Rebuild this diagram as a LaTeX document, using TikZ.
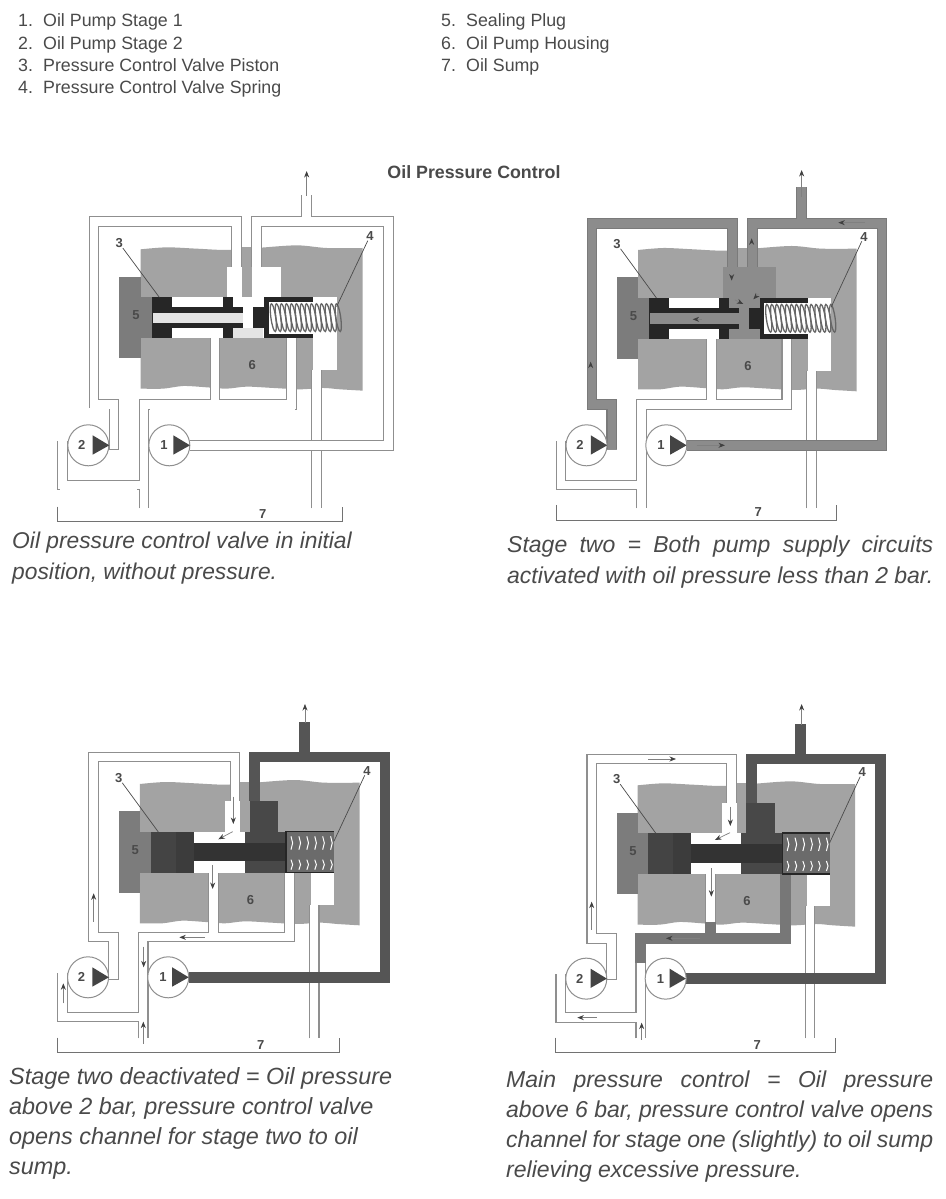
\documentclass[tikz,border=0pt]{standalone}
\usepackage{fontspec}
\setmainfont{Liberation Sans}
\usetikzlibrary{arrows.meta}
\definecolor{txt}{HTML}{4A4A4A}
\definecolor{hous}{HTML}{A3A3A3}
\definecolor{plug}{HTML}{7C7C7C}
\definecolor{edgec}{HTML}{8F8F8F}
\definecolor{midf}{HTML}{8C8C8C}
\definecolor{midd}{HTML}{7A7A7A}
\definecolor{darkf}{HTML}{555555}
\definecolor{pist}{HTML}{262626}
\definecolor{light}{HTML}{E4E4E4}
\tikzset{
 listtext/.style={anchor=base west,inner sep=0pt,text=txt,font=\fontsize{17.8}{20}\selectfont},
 captext/.style={anchor=base west,inner sep=0pt,text=txt,font=\fontsize{23}{26}\itshape\selectfont},
 captextA/.style={captext,font=\fontsize{22.8}{26}\itshape\selectfont},
 captextC/.style={captext,font=\fontsize{23.4}{26}\itshape\selectfont},
 partno/.style={inner sep=0pt,text=txt,font=\fontsize{13}{15}\bfseries\selectfont},
 leader/.style={draw=txt,line width=.7pt},
 pumpc/.style={circle,draw=edgec,fill=white,line width=1pt,minimum size=41pt,inner sep=0pt},
 flow/.style={draw=gray,line width=.7pt,-{Stealth[length=6.5pt,width=5pt,color=black!75]}},
}
\newcommand\pipe[3]{\draw[line width=10.8pt,#1]#3;\draw[line width=8.5pt,#2]#3;}
\newcommand\chanA{(450,\py)--(1045,\py)--(1045,\ty)--(650,\ty)--(650,{320+\hy}) (800,\ty)--(800,\st)}
\newcommand\chanB{(222,870)--(222,\ey)--(162,\ey)--(162,\ty)--(590,\ty)--(590,{320+\hy})}
\newcommand\chanC{(312,1045)--(312,\ey)--(755,\ey)--(755,{535+\hy}) (525,\ey)--(525,{535+\hy}) (312,\ly)--(67,\ly)--(67,{\py-14})}
\newcommand\chanD{(830,1045)--(830,{630+\hy})}
\newcommand\housing{%
 \fill[hous] plot[smooth] coordinates {(302,268)(380,262)(470,266)(560,270)(650,264)(770,256)(860,264)(968,264)}
   -- (968,692) -- plot[smooth] coordinates {(968,692)(900,688)(850,684)(780,688)(700,684)(620,680)(560,686)(500,682)(430,678)(370,686)(302,686)} -- cycle;
 \fill[plug] (238,350) rectangle (302,595);
 \fill[plug] (302,411) rectangle (335,534);
 \fill[white] (335,411) rectangle (890,534);
 \fill[white] (820,534) rectangle (890,630);
 \fill[white] (560,320) rectangle (722,411);
 \fill[hous] (605,262) rectangle (635,411);
}
\newcommand\pistonA[2]{%
 \fill[#2] (580,412) rectangle (672,534);
 \fill[pist] (335,412) rectangle (395,534);
 \fill[pist] (395,442) rectangle (610,505);
 \fill[pist] (550,412) rectangle (580,534);
 \fill[#1] (338,458) rectangle (608,490);
 \fill[#2] (610,440) rectangle (640,505);
 \fill[pist] (640,442) rectangle (672,505);
 \fill[pist] (672,412) rectangle (820,535);
 \fill[white] (686,426) rectangle (820,521);
 \foreach \sx in {700,715,...,900}{\draw[line width=1.3pt,black!60,rotate around={8:(\sx,473)}] (\sx,473) ellipse [x radius=2.4pt,y radius=14pt];}
}
\newcommand\pistonB{%
 \fill[darkf!85!black] (635,320) rectangle (722,411);
 \fill[darkf!85!black] (620,411) rectangle (745,534);
 \fill[white] (465,411) rectangle (620,534);
 \fill[darkf!80!black] (335,411) rectangle (410,534);
 \fill[pist!90!white] (410,411) rectangle (465,534);
 \fill[darkf!60!black] (465,445) rectangle (745,500);
 \fill[black!58] (745,411) rectangle (890,534);
 \draw[pist,line width=1.2pt] (890,411)--(745,411)--(745,534)--(890,534);
 \foreach \sx in {760,784,...,880}{
  \draw[white,line width=1pt] (\sx,425)--(\sx+5,445)--(\sx,465);
  \draw[white,line width=1pt] (\sx,495)--(\sx+5,510)--(\sx,525);}
}
\newcommand\labels{%
 \node[partno] (n3) at (238,250) {3};
 \coordinate (t3) at (358,412);
 \draw[leader] (n3) -- (t3);
 \node[partno] (n4) at (990,228) {4};
 \coordinate (t4) at (890,440);
 \draw[leader] (n4) -- (t4);
 \node[partno] (n5) at (288,465) {5};
 \node[partno] (n6) at (637,615) {6};
}
\newcommand\common{%
 \draw[edgec,line width=1pt] (207,870)--(238,870);
 \node[pumpc] (pump2) at (145,\py) {};
 \node[pumpc] (pump1) at (388,\py) {};
 \fill[darkf!80!black] (158,{\py-30}) -- (158,{\py+28}) -- (208,\py) -- cycle;
 \fill[darkf!80!black] (400,{\py-30}) -- (400,{\py+28}) -- (450,\py) -- cycle;
 \node[partno] (l2) at (125,\py) {2};
 \node[partno] (l1) at (372,\py) {1};
 \coordinate (b1) at (52,{\bry-45});
 \coordinate (b2) at (52,\bry);
 \coordinate (b3) at (907,\bry);
 \coordinate (b4) at (907,{\bry-45});
 \draw[edgec!80!black,line width=.9pt] (b1)--(b2)--(b3)--(b4);
 \node[partno] (n7) at (668,{\bry-24}) {7};
}
\begin{document}
\begin{tikzpicture}[x=1pt,y=-1pt]
\useasboundingbox (0,0) rectangle (945,1199);
\fill[white] (0,0) rectangle (945,1199);
% list
\node[listtext] (i1) at (18,27) {\makebox[25pt][l]{1.}Oil Pump Stage 1};
\node[listtext] (i2) at (18,49) {\makebox[25pt][l]{2.}Oil Pump Stage 2};
\node[listtext] (i3) at (18,71) {\makebox[25pt][l]{3.}Pressure Control Valve Piston};
\node[listtext] (i4) at (18,93) {\makebox[25pt][l]{4.}Pressure Control Valve Spring};
\node[listtext] (i5) at (441,27) {\makebox[25pt][l]{5.}Sealing Plug};
\node[listtext] (i6) at (441,49) {\makebox[25pt][l]{6.}Oil Pump Housing};
\node[listtext] (i7) at (441,71) {\makebox[25pt][l]{7.}Oil Sump};
\node[anchor=base,inner sep=0pt,text=txt,font=\fontsize{17.8}{20}\bfseries\selectfont] (title) at (474,178) {Oil Pressure Control};
% panel 1
\begin{scope}[name prefix=a-,shift={(40,160)},x=.3333pt,y=-.3333pt]
 \def\ty{184}\def\py{856}\def\ey{733}\def\ly{975}\def\hy{0}\def\bry{1085}\def\st{105}
 \housing
 \pipe{edgec}{white}{\chanD}
 \pipe{edgec}{white}{\chanC}
 \pipe{edgec}{white}{\chanB}
 \pipe{edgec}{white}{\chanA}
 \draw[white,line width=2pt] (60,990)--(290,990) (330,748)--(765,748) (146,748)--(206,748) (298,962)--(298,988);
 \pistonA{light}{white}
 \fill[light] (580,505) rectangle (670,534);
 \labels
 \common
 \draw[flow] (800,108)--(800,33);
\end{scope}
% panel 2
\begin{scope}[name prefix=b-,shift={(538.9,160)},x=.3283pt,y=-.3333pt]
 \def\ty{190}\def\py{856}\def\ey{733}\def\ly{975}\def\hy{2}\def\bry{1080}\def\st{82}
 \begin{scope}[yshift=-.66pt]\housing\fill[midf] (560,320) rectangle (722,411);\fill[hous] (605,262) rectangle (635,320);\end{scope}
 \pipe{edgec}{white}{\chanD}
 \pipe{edgec}{white}{\chanC}
 \pipe{midd}{midf}{\chanB}
 \pipe{midd}{midf}{\chanA}
 \begin{scope}[yshift=-.66pt]\pistonA{midf}{midf}\labels\end{scope}
 \common
\end{scope}
\begin{scope}[name prefix=bz-,shift={(540,160)},x=.3333pt,y=-.3333pt]
 \coordinate (f1a) at (785,110);\coordinate (f1b) at (785,30);\draw[flow] (f1a)--(f1b);
 \coordinate (f2a) at (975,188);\coordinate (f2b) at (895,188);\draw[flow] (f2a)--(f2b);
 \coordinate (f3a) at (470,856);\coordinate (f3b) at (555,856);\draw[flow] (f3a)--(f3b);
 \coordinate (f4a) at (152,620);\coordinate (f4b) at (152,605);\draw[flow] (f4a)--(f4b);
 \coordinate (f5a) at (485,478);\coordinate (f5b) at (458,478);\draw[flow] (f5a)--(f5b);
 \coordinate (f6a) at (575,345);\coordinate (f6b) at (575,362);\draw[flow] (f6a)--(f6b);
 \coordinate (f7a) at (635,248);\coordinate (f7b) at (635,235);\draw[flow] (f7a)--(f7b);
 \coordinate (f8a) at (585,420);\coordinate (f8b) at (610,432);\draw[flow] (f8a)--(f8b);
 \coordinate (f9a) at (655,402);\coordinate (f9b) at (640,418);\draw[flow] (f9a)--(f9b);
\end{scope}
% panel 3
\begin{scope}[name prefix=c-,shift={(40.2,690)},x=.33pt,y=-.3333pt]
 \def\ty{201}\def\py{862}\def\ey{741}\def\ly{981}\def\hy{14}\def\bry{1088}\def\st{95}
 \begin{scope}[yshift=-4.67pt]\housing\end{scope}
 \pipe{edgec}{white}{\chanD}
 \pipe{edgec}{white}{\chanC}
 \pipe{edgec}{white}{\chanB}
 \pipe{darkf}{darkf}{\chanA}
 \begin{scope}[yshift=-4.67pt]\pistonB\labels\end{scope}
 \common
\end{scope}
\begin{scope}[name prefix=cz-,shift={(40,690)},x=.3333pt,y=-.3333pt]
 \coordinate (f1a) at (795,100);\coordinate (f1b) at (795,42);\draw[flow] (f1a)--(f1b);
 \coordinate (f2a) at (580,320);\coordinate (f2b) at (580,402);\draw[flow] (f2a)--(f2b);
 \coordinate (f3a) at (578,425);\coordinate (f3b) at (535,448);\draw[flow] (f3a)--(f3b);
 \coordinate (f4a) at (518,525);\coordinate (f4b) at (518,597);\draw[flow] (f4a)--(f4b);
 \coordinate (f5a) at (495,742);\coordinate (f5b) at (418,742);\draw[flow] (f5a)--(f5b);
 \coordinate (f6a) at (161,695);\coordinate (f6b) at (161,610);\draw[flow] (f6a)--(f6b);
 \coordinate (f7a) at (70,940);\coordinate (f7b) at (70,880);\draw[flow] (f7a)--(f7b);
 \coordinate (f8a) at (311,770);\coordinate (f8b) at (311,832);\draw[flow] (f8a)--(f8b);
 \coordinate (f9a) at (310,1062);\coordinate (f9b) at (310,995);\draw[flow] (f9a)--(f9b);
\end{scope}
% panel 4
\begin{scope}[name prefix=d-,shift={(538.9,690)},x=.3267pt,y=-.3333pt]
 \def\ty{207}\def\py{866}\def\ey{745}\def\ly{983}\def\hy{18}\def\bry{1088}\def\st{102}
 \begin{scope}[yshift=-6pt]\housing\end{scope}
 \pipe{edgec}{white}{\chanD}
 \pipe{edgec}{white}{\chanC}
 \pipe{darkf!80!white}{darkf!80!white}{(755,552)--(755,\ey)--(312,\ey)--(312,820) (525,\ey)--(525,695)}
 \pipe{edgec}{white}{\chanB}
 \pipe{darkf}{darkf}{\chanA}
 \begin{scope}[yshift=-6pt]\pistonB\labels\end{scope}
 \common
\end{scope}
\begin{scope}[name prefix=dz-,shift={(540,690)},x=.3333pt,y=-.3333pt]
 \coordinate (f1a) at (785,105);\coordinate (f1b) at (785,42);\draw[flow] (f1a)--(f1b);
 \coordinate (f2a) at (325,207);\coordinate (f2b) at (408,207);\draw[flow] (f2a)--(f2b);
 \coordinate (f3a) at (571,350);\coordinate (f3b) at (571,408);\draw[flow] (f3a)--(f3b);
 \coordinate (f4a) at (570,428);\coordinate (f4b) at (525,450);\draw[flow] (f4a)--(f4b);
 \coordinate (f5a) at (514,535);\coordinate (f5b) at (514,620);\draw[flow] (f5a)--(f5b);
 \coordinate (f6a) at (480,745);\coordinate (f6b) at (378,745);\draw[flow] (f6a)--(f6b);
 \coordinate (f7a) at (155,720);\coordinate (f7b) at (155,635);\draw[flow] (f7a)--(f7b);
 \coordinate (f8a) at (170,983);\coordinate (f8b) at (112,983);\draw[flow] (f8a)--(f8b);
 \coordinate (f9a) at (305,1050);\coordinate (f9b) at (305,998);\draw[flow] (f9a)--(f9b);
\end{scope}
% captions
\node[captextA] (c11) at (12,548) {Oil pressure control valve in initial};
\node[captextA] (c12) at (12,579) {position, without pressure.};
\node[captext] (c21) at (507,552) {\makebox[426pt][s]{Stage two = Both pump supply circuits}};
\node[captext] (c22) at (507,583) {\makebox[426pt][s]{activated with oil pressure less than 2 bar.}};
\node[captextC] (c31) at (9,1084) {Stage two deactivated = Oil pressure};
\node[captextC] (c32) at (9,1114) {above 2 bar, pressure control valve};
\node[captextC] (c33) at (9,1144) {opens channel for stage two to oil};
\node[captextC] (c34) at (9,1174) {sump.};
\node[captext] (c41) at (506,1087) {\makebox[427pt][s]{Main pressure control = Oil pressure}};
\node[captext] (c42) at (506,1117) {\makebox[427pt][s]{above 6 bar, pressure control valve opens}};
\node[captext] (c43) at (506,1147) {\makebox[427pt][s]{channel for stage one (slightly) to oil sump}};
\node[captext] (c44) at (506,1177) {relieving excessive pressure.};
\end{tikzpicture}
\end{document}
